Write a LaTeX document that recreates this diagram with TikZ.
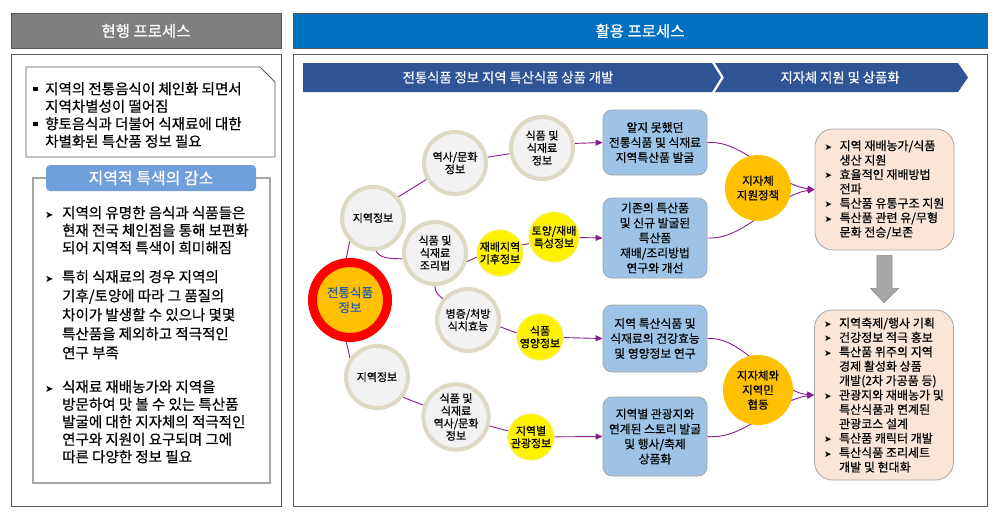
\documentclass[tikz,border=0pt]{standalone}
\usepackage{fontspec}
\setmainfont{Noto Sans CJK KR}[FakeBold=0.5]
\newfontfamily\dv{DejaVu Sans}
\usetikzlibrary{arrows.meta,calc,backgrounds}
\pgfdeclarelayer{connlayer}
\pgfsetlayers{background,connlayer,main}
\definecolor{cHdGray}{HTML}{7F7F7F}
\definecolor{cFrame}{HTML}{595959}
\definecolor{cHdBlue}{HTML}{0070C0}
\definecolor{cChev}{HTML}{2F5597}
\definecolor{cLab}{HTML}{6FA0DC}
\definecolor{cLightLine}{HTML}{A6A6A6}
\definecolor{cBubFill}{HTML}{F2F2F2}
\definecolor{cBubLine}{HTML}{DDD9C4}
\definecolor{cCon}{HTML}{87208A}
\definecolor{cBoxBlue}{HTML}{9DC3E6}
\definecolor{cOrng}{HTML}{FFC000}
\definecolor{cPeach}{HTML}{FBE5D6}
\definecolor{cTxtBlue}{HTML}{1F5FAD}
\definecolor{cYelLine}{HTML}{F0F07A}
\definecolor{cArrGray}{HTML}{A6A6A6}
\definecolor{cArrLine}{HTML}{8C8C8C}
\newcommand{\bul}{\makebox[17pt][l]{\dv\fontsize{10}{10}\selectfont ➤}}
\newcommand{\hang}{\hspace*{17pt}}
\newcommand{\sbul}{\makebox[15pt][l]{\dv\fontsize{9}{9}\selectfont ➤}}
\newcommand{\shang}{\hspace*{15pt}}
\newcommand{\sqb}{\makebox[12pt][l]{\raisebox{3pt}{\rule{4.5pt}{4.5pt}}}}
\newcommand{\sqhang}{\hspace*{12pt}}
\begin{document}
\begin{tikzpicture}[x=1pt,y=-1pt,
  bub/.style={circle, fill=cBubFill, draw=cBubLine, line width=4pt, minimum size=62pt, inner sep=0pt, align=center, font=\fontsize{11}{12.5}\selectfont},
  yel/.style={circle, fill=yellow, draw=cYelLine, line width=1pt, minimum size=45pt, inner sep=0pt, align=center, font=\fontsize{11}{12.5}\selectfont},
  orc/.style={circle, fill=cOrng, minimum size=66pt, inner sep=0pt, align=center, font=\fontsize{11.5}{14.5}\selectfont},
  bbox/.style={rectangle, rounded corners=9pt, fill=cBoxBlue, draw=cLightLine, line width=0.8pt, minimum width=104pt, inner sep=0pt, align=center, font=\fontsize{11.8}{15}\selectfont},
  pbox/.style={rectangle, rounded corners=18pt, fill=cPeach, draw=cLightLine, line width=0.8pt, minimum width=139pt, inner sep=0pt, align=left, font=\fontsize{12}{14.4}\selectfont},
  cline/.style={draw=cCon, line width=0.9pt},
  carr/.style={cline, -{Triangle[length=7pt,width=6pt]}},
  hdbox/.style={draw=cFrame, line width=0.8pt, minimum height=35pt, inner sep=0pt, text=white, font=\fontsize{15.5}{17}\selectfont},
  ltxt/.style={anchor=north west, inner sep=0pt, align=left, font=\fontsize{14.5}{17.5}\selectfont}
]
\useasboundingbox (0,0) rectangle (1000,520);
\begin{pgfonlayer}{background}
\fill[white] (0,0) rectangle (1000,520);
\end{pgfonlayer}

% headers and panels
\node[hdbox, fill=cHdGray, minimum width=270pt] (hdL) at (146,31) {현행 프로세스};
\node[hdbox, fill=cHdBlue, minimum width=694pt] (hdR) at (640,31) {활용 프로세스};
\draw[cFrame, line width=0.8pt] (11,54) rectangle (281,506);
\draw[cFrame, line width=0.8pt] (293,54) rectangle (987,506);

% left panel
\draw[cFrame, line width=0.8pt, fill=white] (26,67) -- (260,67) -- (275,82) -- (275,157) -- (26,157) -- cycle;
\node[ltxt] (note) at (33,82)
 {\sqb 지역의 전통음식이 체인화 되면서\\ \sqhang 지역차별성이 떨어짐\\ \sqb 향토음식과 더불어 식재료에 대한\\ \sqhang 차별화된 특산품 정보 필요};
\draw[cLightLine, line width=1.2pt] (33,178) rectangle (270,483);
\node[fill=cLab, rounded corners=4pt, minimum width=210pt, minimum height=26pt, inner sep=0pt, text=white, font=\fontsize{16}{17}\selectfont] (lab) at (151,178) {지역적 특색의 감소};
\node[ltxt] (g1) at (45,206)
 {\bul 지역의 유명한 음식과 식품들은\\ \hang 현재 전국 체인점을 통해 보편화\\ \hang 되어 지역적 특색이 희미해짐};
\node[ltxt, font=\fontsize{14.5}{19}\selectfont] (g2) at (45,270)
 {\bul 특히 식재료의 경우 지역의\\ \hang 기후/토양에 따라 그 품질의\\ \hang 차이가 발생할 수 있으나 몇몇\\ \hang 특산품을 제외하고 적극적인\\ \hang 연구 부족};
\node[ltxt] (g3) at (45,380)
 {\bul 식재료 재배농가와 지역을\\ \hang 방문하여 맛 볼 수 있는 특산품\\ \hang 발굴에 대한 지자체의 적극적인\\ \hang 연구와 지원이 요구되며 그에\\ \hang 따른 다양한 정보 필요};

% chevron banner
\fill[cChev] (303,63) -- (712,63) -- (721,77.5) -- (712,92) -- (303,92) -- cycle;
\fill[cChev] (715,63) -- (958,63) -- (968,77.5) -- (958,92) -- (715,92) -- (724,77.5) -- cycle;
\node[text=white, font=\fontsize{13.3}{15}\selectfont] (ch1) at (508,77.5) {전통식품 정보 지역 특산식품 상품 개발};
\node[text=white, font=\fontsize{13.3}{15}\selectfont] (ch2) at (840,77.5) {지자체 지원 및 상품화};

% bubbles
\node[circle, draw=red, line width=9pt, fill=cOrng, minimum size=75pt, inner sep=0pt, align=center, text=cTxtBlue, font=\fontsize{12.5}{15}\selectfont] (big) at (350,300) {전통식품\\정보};
\node[bub] (jy1) at (373,218) {지역정보};
\node[bub] (ys1) at (455,163) {역사/문화\\정보};
\node[bub] (sp1) at (542,148) {식품 및\\식재료\\정보};
\node[bub] (jr) at (435,253) {식품 및\\식재료\\조리법};
\node[yel] (y1) at (500,253) {재배지역\\기후정보};
\node[yel] (y2) at (554,237) {토양/재배\\특성정보};
\node[bub] (bj) at (468,320) {병증/처방\\식치효능};
\node[yel] (y3) at (540,337) {식품\\영양정보};
\node[bub] (jy2) at (377,377) {지역정보};
\node[bub] (ys2) at (456,417) {식품 및\\식재료\\역사/문화\\정보};
\node[yel] (y4) at (531,437) {지역별\\관광정보};

% blue boxes
\node[bbox, minimum height=65pt] (b1) at (655,142.5) {알지 못했던\\전통식품 및 식재료\\지역특산품 발굴};
\node[bbox, minimum height=80pt] (b2) at (655,238) {기존의 특산품\\및 신규 발굴된\\특산품\\재배/조리방법\\연구와 개선};
\node[bbox, minimum height=67pt] (b3) at (655,338.5) {지역 특산식품 및\\식재료의 건강효능\\및 영양정보 연구};
\node[bbox, minimum height=79pt] (b4) at (655,436.5) {지역별 관광지와\\연계된 스토리 발굴\\및 행사/축제\\상품화};

% orange circles
\node[orc] (c1) at (758,188) {지자체\\지원정책};
\node[orc, minimum size=70pt] (c2) at (758,390) {지자체와\\지역민\\협동};

% peach boxes
\node[pbox, minimum height=121pt] (pA) at (884.5,189.5)
 {\sbul 지역 재배농가/식품\\ \shang 생산 지원\\ \sbul 효율적인 재배방법\\ \shang 전파\\ \sbul 특산품 유통구조 지원\\ \sbul 특산품 관련 유/무형\\ \shang 문화 전승/보존};
\node[pbox, minimum height=170pt] (pB) at (884,395)
 {\sbul 지역축제/행사 기획\\ \sbul 건강정보 적극 홍보\\ \sbul 특산품 위주의 지역\\ \shang 경제 활성화 상품\\ \shang 개발(2차 가공품 등)\\ \sbul 관광지와 재배농가 및\\ \shang 특산식품과 연계된\\ \shang 관광코스 설계\\ \sbul 특산품 캐릭터 개발\\ \sbul 특산식품 조리세트\\ \shang 개발 및 현대화};

% gray block arrow
\fill[cArrGray, draw=cArrLine, line width=0.6pt]
  ($(pA.south)+(-7.5,5)$) -- ($(pA.south)+(7.5,5)$) -- ($(pA.south)+(7.5,38)$) -- ($(pA.south)+(14,38)$)
  -- ($(pB.north)+(0,-7)$) -- ($(pA.south)+(-14,38)$) -- ($(pA.south)+(-7.5,38)$) -- cycle;

% connectors
\begin{pgfonlayer}{connlayer}
\draw[cline] (big.95) -- (jy1.225);
\draw[cline] (jy1.40) -- (ys1.210);
\draw[cline] (ys1.10) -- (sp1.190);
\draw[carr] (sp1.8) -- (b1.west);
\draw[cline] (jy1.-85) .. controls +(4,7) and +(-15,0) .. (jr.190);
\draw[cline] (jr.-15) -- (y1.190);
\draw[cline] (y1.20) -- (y2.195);
\draw[carr] (y2) -- (b2.west);
\draw[cline] (jr.-90) .. controls +(0,7) and +(-5,-5) .. (bj.140);
\draw[cline] (bj.-12) -- (y3.170);
\draw[carr] (y3) -- (b3.west);
\draw[cline] (big.-95) -- (jy2.145);
\draw[cline] (jy2.-38) -- (ys2.160);
\draw[cline] (ys2.-15) -- (y4.165);
\draw[carr] (y4) -- (b4.west);
\draw[carr] (b1.east) .. controls (745,140) and (775,185) .. (pA.west);
\draw[carr] (b2.east) .. controls (745,240) and (775,195) .. (pA.west);
\draw[carr] (b3.east) .. controls (745,336) and (775,392) .. (pB.west);
\draw[carr] (b4.east) .. controls (745,440) and (775,400) .. (pB.west);
\end{pgfonlayer}
\end{tikzpicture}
\end{document}
